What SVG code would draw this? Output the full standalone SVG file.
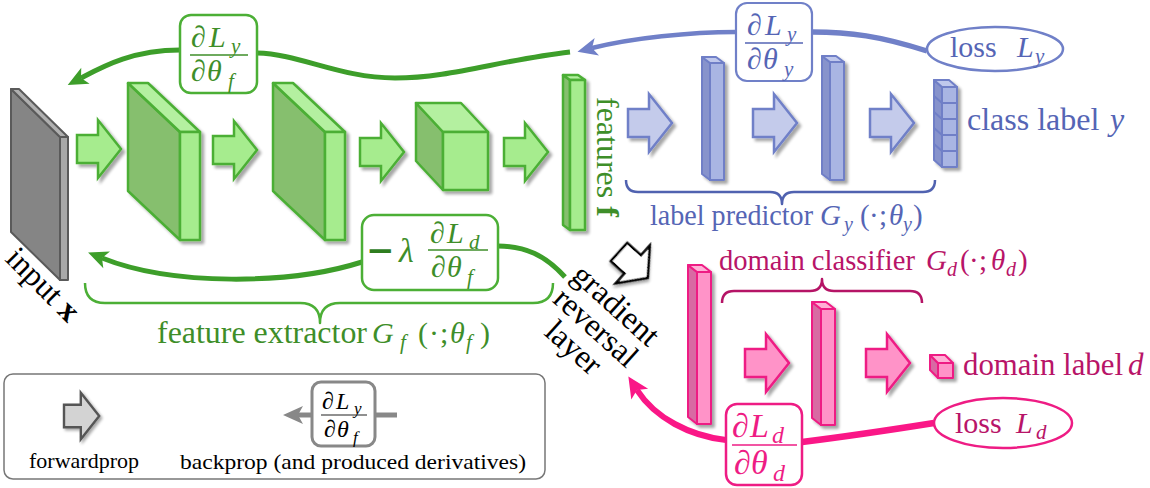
<svg xmlns="http://www.w3.org/2000/svg" width="1150" height="488" viewBox="0 0 1150 488">
<style>
.it { font-style: italic; }
.gt { fill: #3e8e29; }
.bt { fill: #5565b5; }
.pt { fill: #b81468; }
.pb { fill: #ee1c84; }
.ga { fill: #a6ec8e; stroke: #4caf36; stroke-width: 2.5; }
.bla { fill: #c4cbeb; stroke: #7080c8; stroke-width: 2.5; }
.pa { fill: #ff93c8; stroke: #ee1c84; stroke-width: 2.5; }
.gs { stroke: #4caf36; stroke-width: 2.5; stroke-linejoin: round; }
.g-side { fill: #86bf6e; } .g-front { fill: #a6ec8e; } .g-top { fill: #b4f0a0; }
.bs { stroke: #6f7fc7; stroke-width: 2; stroke-linejoin: round; }
.b-side { fill: #8793cc; } .b-front { fill: #a9b5e3; } .b-top { fill: #c0c8ec; }
.ps { stroke: #ee1c84; stroke-width: 2; stroke-linejoin: round; }
.p-side { fill: #d86aa3; } .p-front { fill: #ff93c8; } .p-top { fill: #ffb0d6; }
.ks { stroke: #5a5a5a; stroke-width: 2; stroke-linejoin: round; }
.gbox { fill: #fff; stroke: #4caf36; stroke-width: 2.5; }
.bbox { fill: #fff; stroke: #7080c8; stroke-width: 2.2; }
.pbox { fill: #fff; stroke: #ee1c84; stroke-width: 2.5; }
.brace { fill: none; stroke-width: 2.5; stroke-linejoin: round; }
</style>
<defs>
<filter id="sh" x="-30%" y="-30%" width="170%" height="170%">
<feGaussianBlur in="SourceAlpha" stdDeviation="1.8"/>
<feOffset dx="2.5" dy="2.5"/>
<feComponentTransfer><feFuncA type="linear" slope="0.35"/></feComponentTransfer>
<feMerge><feMergeNode/><feMergeNode in="SourceGraphic"/></feMerge>
</filter>
<path id="ba" d="M0,-14 H21 V-29 L44,0 L21,29 V14 H0 Z"/>
<marker id="mg" markerUnits="userSpaceOnUse" viewBox="0 -10 20 20" markerWidth="20" markerHeight="20" refX="5" refY="0" orient="auto" overflow="visible"><path d="M0,-9 L20,0 L0,9 L5,0 Z" fill="#3d9e2a"/></marker>
<marker id="mb" markerUnits="userSpaceOnUse" viewBox="0 -10 20 20" markerWidth="20" markerHeight="20" refX="5" refY="0" orient="auto" overflow="visible"><path d="M0,-9 L20,0 L0,9 L5,0 Z" fill="#7080c8"/></marker>
<marker id="mp" markerUnits="userSpaceOnUse" viewBox="0 -10 20 20" markerWidth="20" markerHeight="20" refX="5" refY="0" orient="auto" overflow="visible"><path d="M0,-10 L21,0 L0,10 L5,0 Z" fill="#fa1787"/></marker>
<marker id="mk" markerUnits="userSpaceOnUse" viewBox="0 -10 20 20" markerWidth="20" markerHeight="20" refX="5" refY="0" orient="auto" overflow="visible"><path d="M0,-9 L20,0 L0,9 L5,0 Z" fill="#888888"/></marker>
</defs>

<g id="connectors" fill="none" stroke-linecap="butt">
<path d="M570,52 C500,60 450,78 395,78 C340,78 300,54 257,53" stroke="#3d9e2a" stroke-width="5"/>
<path d="M180,50 C132,50 102,67 81,78" stroke="#3d9e2a" stroke-width="5" marker-end="url(#mg)"/>
<path d="M565,277 C545,255 525,246 498,246" stroke="#3d9e2a" stroke-width="5"/>
<path d="M362,262 C290,285 172,286 102,258" stroke="#3d9e2a" stroke-width="5" marker-end="url(#mg)"/>
<path d="M927,51 C880,36 850,32 812,32" stroke="#7080c8" stroke-width="5.5"/>
<path d="M736,32 C690,32 632,38 592,48" stroke="#7080c8" stroke-width="4.5" marker-end="url(#mb)"/>
<path d="M934,423 C890,430 850,436 802,442" stroke="#fa1787" stroke-width="6.5"/>
<path d="M726,440 C690,436 655,418 637,390" stroke="#fa1787" stroke-width="6" marker-end="url(#mp)"/>
</g>

<g id="input">
<polygon class="ks" points="11,89 60,137 60,280 11,232" fill="#858585"/>
<polygon class="ks" points="11,89 19,89 68,137 60,137" fill="#b0b0b0"/>
<rect class="ks" x="60" y="137" width="8" height="143" fill="#a8a8a8"/>
<text font-family="Liberation Serif, serif" transform="translate(4,260) rotate(45)" font-size="32" fill="#000">input <tspan font-weight="bold">x</tspan></text>
</g>

<g id="fwd-green">
<use href="#ba" class="ga" filter="url(#sh)" transform="translate(77,149)"/>
<use href="#ba" class="ga" filter="url(#sh)" transform="translate(213,150)"/>
<use href="#ba" class="ga" filter="url(#sh)" transform="translate(360,152)"/>
<use href="#ba" class="ga" filter="url(#sh)" transform="translate(504,152)"/>
</g>

<g id="slab1" class="gs" filter="url(#sh)">
<polygon class="g-side" points="128,83 180,132 180,240 128,191"/>
<polygon class="g-top" points="128,83 148,83 200,132 180,132"/>
<rect class="g-front" x="180" y="132" width="20" height="108"/>
</g>
<g id="slab2" class="gs" filter="url(#sh)">
<polygon class="g-side" points="273,83 325,132 325,240 273,191"/>
<polygon class="g-top" points="273,83 293,83 345,132 325,132"/>
<rect class="g-front" x="325" y="132" width="20" height="108"/>
</g>
<g id="cube" class="gs" filter="url(#sh)">
<polygon class="g-side" points="416,103 443,132 443,190 416,161"/>
<polygon class="g-top" points="416,103 461,103 488,132 443,132"/>
<rect class="g-front" x="443" y="132" width="45" height="58"/>
</g>
<g id="features">
<g class="gs" filter="url(#sh)">
<polygon class="g-side" points="563,75 570,80 570,230 563,225"/>
<polygon class="g-top" points="563,75 578,75 585,80 570,80"/>
<rect class="g-front" x="570" y="80" width="15" height="150"/>
</g>
<text font-family="Liberation Serif, serif" class="gt" transform="translate(597,97) rotate(90)" font-size="32">features <tspan font-weight="bold">f</tspan></text>
</g>

<g id="grad-yf" font-family="Liberation Serif, serif">
<rect class="gbox" x="180" y="15" width="77" height="78" rx="11"/>
<line x1="190" y1="55" x2="248" y2="55" stroke="#3e8e29" stroke-width="1.5"/>
<text class="gt" font-size="30"><tspan x="191" y="47">∂</tspan><tspan class="it" x="209" y="47">L</tspan><tspan class="it" x="231" y="53" font-size="21">y</tspan></text>
<text class="gt" font-size="30"><tspan x="191" y="81">∂</tspan><tspan class="it" x="207" y="81">θ</tspan><tspan class="it" x="228" y="88" font-size="21">f</tspan></text>
</g>

<g id="grad-lambda" font-family="Liberation Serif, serif">
<rect class="gbox" x="362" y="215" width="136" height="75" rx="12"/>
<text x="366" y="262" font-family="DejaVu Sans, sans-serif" font-weight="bold" font-size="34" fill="#2e7d1f">−</text>
<text class="gt it" x="399" y="262" font-size="34">λ</text>
<line x1="428" y1="250" x2="488" y2="250" stroke="#3e8e29" stroke-width="1.5"/>
<text class="gt" font-size="30"><tspan x="430" y="243">∂</tspan><tspan class="it" x="447" y="243">L</tspan><tspan class="it" x="469" y="249" font-size="21">d</tspan></text>
<text class="gt" font-size="30"><tspan x="431" y="277">∂</tspan><tspan class="it" x="447" y="277">θ</tspan><tspan class="it" x="467" y="284" font-size="21">f</tspan></text>
</g>

<g id="feature-extractor" font-family="Liberation Serif, serif">
<path class="brace" stroke="#4caf36" d="M85,283 Q85,303 105,303 H300 Q320,303 320,323 Q320,303 340,303 H533 Q553,303 553,283"/>
<text class="gt" x="157" y="343" font-size="31" textLength="210" lengthAdjust="spacingAndGlyphs">feature extractor</text>
<text class="gt" font-size="30"><tspan class="it" x="372" y="343">G</tspan><tspan class="it" x="400" y="349" font-size="21">f</tspan><tspan x="418" y="343">(</tspan><tspan x="429" y="343">·</tspan><tspan x="440" y="343">;</tspan><tspan class="it" x="450" y="343">θ</tspan><tspan class="it" x="466" y="349" font-size="21">f</tspan><tspan x="480" y="343">)</tspan></text>
</g>

<g id="grl">
<g transform="translate(589,335) rotate(42)" font-family="Liberation Serif, serif" font-size="32" fill="#000" text-anchor="middle">
<text x="0" y="-30">gradient</text>
<text x="0" y="0">reversal</text>
<text x="-3" y="30">layer</text>
</g>
<use href="#ba" transform="translate(619,252) rotate(42) scale(0.88)" fill="#fff" stroke="#000" stroke-width="2.8" filter="url(#sh)"/>
</g>

<g id="label-predictor" font-family="Liberation Serif, serif">
<use href="#ba" class="bla" filter="url(#sh)" transform="translate(628,123)"/>
<use href="#ba" class="bla" filter="url(#sh)" transform="translate(753,123)"/>
<use href="#ba" class="bla" filter="url(#sh)" transform="translate(870,123)"/>
<g class="bs" filter="url(#sh)">
<polygon class="b-side" points="702,57 710,63 710,180 702,174"/>
<polygon class="b-top" points="702,57 716,57 724,63 710,63"/>
<rect class="b-front" x="710" y="63" width="14" height="117"/>
</g>
<g class="bs" filter="url(#sh)">
<polygon class="b-side" points="822,56 830,62 830,180 822,174"/>
<polygon class="b-top" points="822,56 836,56 844,62 830,62"/>
<rect class="b-front" x="830" y="62" width="14" height="118"/>
</g>
<path class="brace" stroke="#5062b0" d="M626,180 Q626,192 638,192 H770 Q782,192 782,204 Q782,192 794,192 H923 Q935,192 935,180"/>
<text class="bt" x="650" y="225" font-size="29" textLength="163" lengthAdjust="spacingAndGlyphs">label predictor</text>
<text class="bt" font-size="29"><tspan class="it" x="820" y="225">G</tspan><tspan class="it" x="844" y="231" font-size="20">y</tspan><tspan x="860" y="225">(</tspan><tspan x="869" y="225">·</tspan><tspan x="879" y="225">;</tspan><tspan class="it" x="889" y="225">θ</tspan><tspan class="it" x="903" y="231" font-size="20">y</tspan><tspan x="913" y="225">)</tspan></text>
</g>

<g id="class-label" font-family="Liberation Serif, serif">
<g class="bs" filter="url(#sh)">
<polygon class="b-side" points="934,80 942,87 942,167 934,160"/>
<polygon class="b-top" points="934,80 949,80 957,87 942,87"/>
<rect class="b-front" x="942" y="87" width="15" height="80"/>
<path fill="none" d="M942,103 H957 M942,119 H957 M942,135 H957 M942,151 H957 M934,96 L942,103 M934,112 L942,119 M934,128 L942,135 M934,144 L942,151"/>
</g>
<text class="bt" x="967" y="130" font-size="32">class label</text>
<text class="bt it" x="1110" y="130" font-size="32">y</text>
</g>

<g id="loss-y" font-family="Liberation Serif, serif">
<ellipse cx="995" cy="49" rx="68" ry="22" fill="#fff" stroke="#7080c8" stroke-width="2.5"/>
<text class="bt" x="950" y="57" font-size="30">loss</text>
<text class="bt" font-size="30"><tspan class="it" x="1017" y="57">L</tspan><tspan class="it" x="1035" y="63" font-size="21">y</tspan></text>
</g>

<g id="grad-yy" font-family="Liberation Serif, serif">
<rect class="bbox" x="736" y="3" width="76" height="78" rx="11"/>
<line x1="745" y1="43" x2="803" y2="43" stroke="#5565b5" stroke-width="1.5"/>
<text class="bt" font-size="30"><tspan x="747" y="35">∂</tspan><tspan class="it" x="765" y="35">L</tspan><tspan class="it" x="787" y="41" font-size="21">y</tspan></text>
<text class="bt" font-size="30"><tspan x="747" y="69">∂</tspan><tspan class="it" x="763" y="69">θ</tspan><tspan class="it" x="784" y="76" font-size="21">y</tspan></text>
</g>

<g id="domain-classifier" font-family="Liberation Serif, serif">
<use href="#ba" class="pa" filter="url(#sh)" transform="translate(745,363)"/>
<use href="#ba" class="pa" filter="url(#sh)" transform="translate(866,363)"/>
<g class="ps" filter="url(#sh)">
<polygon class="p-side" points="688,265 697,272 697,424 688,417"/>
<polygon class="p-top" points="688,265 702,265 711,272 697,272"/>
<rect class="p-front" x="697" y="272" width="14" height="152"/>
</g>
<g class="ps" filter="url(#sh)">
<polygon class="p-side" points="812,302 821,309 821,425 812,418"/>
<polygon class="p-top" points="812,302 826,302 835,309 821,309"/>
<rect class="p-front" x="821" y="309" width="14" height="116"/>
</g>
<path class="brace" stroke="#b51466" d="M722,303 Q722,291 734,291 H810 Q822,291 822,279 Q822,291 834,291 H910 Q922,291 922,303"/>
<text class="pt" x="719" y="270" font-size="29" textLength="196" lengthAdjust="spacingAndGlyphs">domain classifier</text>
<text class="pt" font-size="29"><tspan class="it" x="926" y="270">G</tspan><tspan class="it" x="947" y="276" font-size="20">d</tspan><tspan x="960" y="270">(</tspan><tspan x="969" y="270">·</tspan><tspan x="979" y="270">;</tspan><tspan class="it" x="991" y="270">θ</tspan><tspan class="it" x="1006" y="276" font-size="20">d</tspan><tspan x="1018" y="270">)</tspan></text>
</g>

<g id="domain-label" font-family="Liberation Serif, serif">
<g class="ps" filter="url(#sh)">
<polygon class="p-side" points="930,355 938,363 938,378 930,370"/>
<polygon class="p-top" points="930,355 945,355 953,363 938,363"/>
<rect class="p-front" x="938" y="363" width="15" height="15"/>
</g>
<text class="pt" x="963" y="375" font-size="31" textLength="160" lengthAdjust="spacingAndGlyphs">domain label</text>
<text class="pt it" x="1128" y="375" font-size="31">d</text>
</g>

<g id="loss-d" font-family="Liberation Serif, serif">
<ellipse cx="1003" cy="423" rx="69" ry="25" fill="#fff" stroke="#ee1c84" stroke-width="2.5"/>
<text class="pt" x="955" y="433" font-size="30">loss</text>
<text class="pt" font-size="30"><tspan class="it" x="1016" y="433">L</tspan><tspan class="it" x="1036" y="439" font-size="21">d</tspan></text>
</g>

<g id="grad-dd" font-family="Liberation Serif, serif">
<rect class="pbox" x="726" y="404" width="76" height="81" rx="11"/>
<line x1="732" y1="445" x2="797" y2="445" stroke="#ee1c84" stroke-width="1.6"/>
<text class="pb" font-size="34"><tspan x="732" y="437">∂</tspan><tspan class="it" x="750" y="437">L</tspan><tspan class="it" x="772" y="443" font-size="24">d</tspan></text>
<text class="pb" font-size="34"><tspan x="734" y="474">∂</tspan><tspan class="it" x="751" y="474">θ</tspan><tspan class="it" x="773" y="481" font-size="24">d</tspan></text>
</g>

<g id="legend" font-family="Liberation Serif, serif">
<rect x="4" y="374" width="541" height="105" rx="9" fill="#fff" stroke="#777" stroke-width="1.5"/>
<use href="#ba" transform="translate(64,416) scale(0.8)" fill="#d3d3d3" stroke="#555" stroke-width="3" filter="url(#sh)"/>
<text x="29" y="468" font-size="22" textLength="110" lengthAdjust="spacingAndGlyphs">forwardprop</text>
<path d="M375,415 H397" stroke="#888" stroke-width="5" fill="none"/>
<path d="M312,415 H298" stroke="#888" stroke-width="5" fill="none" marker-end="url(#mk)"/>
<rect x="312" y="382" width="63" height="64" rx="9" fill="#fff" stroke="#888" stroke-width="3"/>
<line x1="321" y1="415" x2="367" y2="415" stroke="#222" stroke-width="1.2"/>
<text font-size="24"><tspan x="322" y="409">∂</tspan><tspan class="it" x="336" y="409">L</tspan><tspan class="it" x="354" y="414" font-size="17">y</tspan></text>
<text font-size="24"><tspan x="324" y="437">∂</tspan><tspan class="it" x="337" y="437">θ</tspan><tspan class="it" x="353" y="443" font-size="17">f</tspan></text>
<text x="180" y="469" font-size="22" textLength="346" lengthAdjust="spacingAndGlyphs">backprop (and produced derivatives)</text>
</g>
</svg>
